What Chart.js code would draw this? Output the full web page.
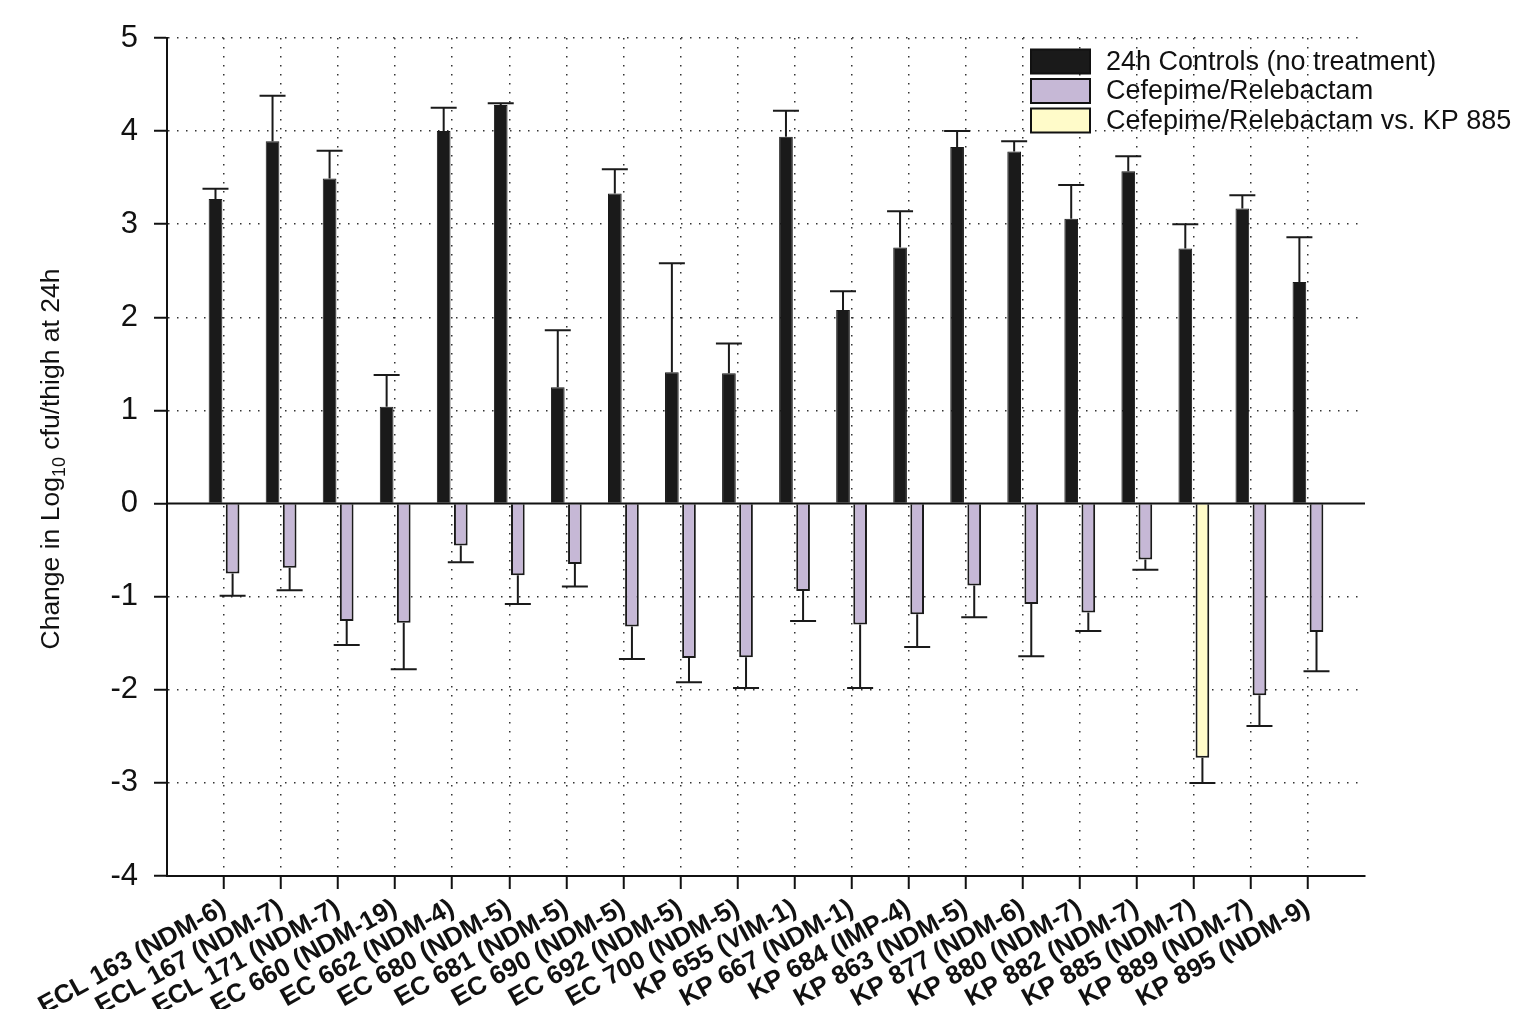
<!DOCTYPE html>
<html>
<head>
<meta charset="utf-8">
<script src="https://cdn.jsdelivr.net/npm/chart.js@4.4.1/dist/chart.umd.min.js"></script>
<style>
  html, body { margin: 0; padding: 0; background: #fff; overflow: hidden; }
  #wrap { width: 1514px; height: 1009px; }
</style>
</head>
<body>
<div id="wrap"><canvas id="chart" width="1514" height="1009"></canvas></div>
<script>
const categories = [
  'ECL 163 (NDM-6)', 'ECL 167 (NDM-7)', 'ECL 171 (NDM-7)', 'EC 660 (NDM-19)', 'EC 662 (NDM-4)',
  'EC 680 (NDM-5)', 'EC 681 (NDM-5)', 'EC 690 (NDM-5)', 'EC 692 (NDM-5)', 'EC 700 (NDM-5)',
  'KP 655 (VIM-1)', 'KP 667 (NDM-1)', 'KP 684 (IMP-4)', 'KP 863 (NDM-5)', 'KP 877 (NDM-6)',
  'KP 880 (NDM-7)', 'KP 882 (NDM-7)', 'KP 885 (NDM-7)', 'KP 889 (NDM-7)', 'KP 895 (NDM-9)'
];

// 24h controls: mean change and SD
const controlMeans = [3.27, 3.89, 3.49, 1.04, 4.00, 4.28, 1.25, 3.33, 1.41, 1.40,
                      3.94, 2.08, 2.75, 3.83, 3.78, 3.06, 3.57, 2.74, 3.17, 2.38];
const controlSd    = [0.11, 0.49, 0.30, 0.34, 0.25, 0.02, 0.61, 0.26, 1.17, 0.32,
                      0.28, 0.20, 0.39, 0.17, 0.11, 0.36, 0.16, 0.26, 0.14, 0.48];

// cefepime/relebactam (KP 885 is drawn as its own series)
const treatMeans = [-0.75, -0.69, -1.26, -1.28, -0.45, -0.77, -0.65, -1.32, -1.66, -1.65,
                    -0.94, -1.30, -1.19, -0.88, -1.08, -1.17, -0.60, null, -2.06, -1.38];
const treatSd    = [0.24, 0.24, 0.26, 0.50, 0.18, 0.31, 0.24, 0.35, 0.26, 0.33,
                    0.32, 0.68, 0.35, 0.34, 0.56, 0.20, 0.11, null, 0.33, 0.42];

const kp885Label = 'KP 885 (NDM-7)';
const kp885Mean = [-2.73];
const kp885Sd = [0.27];

const yMin = -4, yMax = 5;

const FONT = "'Liberation Sans', Arial, sans-serif";
const clear = 'rgba(0,0,0,0)';

// one empty slot on each side, like the original axis
const xLabels = ['', ...categories, ' '];

// error bars (up for positive bars, down for negative ones)
const errorBars = {
  id: 'errorBars',
  afterDatasetsDraw(chart) {
    const ctx = chart.ctx;
    const y = chart.scales.y;
    ctx.save();
    ctx.strokeStyle = '#1a1a1a';
    ctx.lineWidth = 2;
    chart.data.datasets.forEach((ds, di) => {
      const meta = chart.getDatasetMeta(di);
      meta.data.forEach((bar, i) => {
        const v = ds.data[i].y;
        const sd = ds.sd[i];
        if (v == null || sd == null) return;
        const end = y.getPixelForValue(v >= 0 ? v + sd : v - sd);
        ctx.beginPath();
        ctx.moveTo(bar.x, bar.y);
        ctx.lineTo(bar.x, end);
        ctx.moveTo(bar.x - 13, end);
        ctx.lineTo(bar.x + 13, end);
        ctx.stroke();
      });
    });
    ctx.restore();
  }
};

const zeroLine = {
  id: 'zeroLine',
  afterDatasetsDraw(chart) {
    const ctx = chart.ctx;
    const a = chart.chartArea;
    const y0 = chart.scales.y.getPixelForValue(0);
    ctx.save();
    ctx.strokeStyle = '#111';
    ctx.lineWidth = 2;
    ctx.beginPath();
    ctx.moveTo(a.left, y0);
    ctx.lineTo(a.right, y0);
    ctx.stroke();
    ctx.restore();
  }
};

// y title with subscript 10
const yTitle = {
  id: 'yTitle',
  afterDraw(chart) {
    const ctx = chart.ctx;
    const a = chart.chartArea;
    const parts = [['Change in Log', 26.5, 0], ['10', 18, 8], [' cfu/thigh at 24h', 26.5, 0]];
    ctx.save();
    ctx.translate(52, (a.top + a.bottom) / 2 + 2);
    ctx.rotate(-Math.PI / 2);
    ctx.fillStyle = '#111';
    ctx.textBaseline = 'middle';
    let total = 0;
    parts.forEach(p => { ctx.font = p[1] + 'px ' + FONT; total += ctx.measureText(p[0]).width; });
    let x = -total / 2;
    parts.forEach(p => {
      ctx.font = p[1] + 'px ' + FONT;
      ctx.fillText(p[0], x, p[2]);
      x += ctx.measureText(p[0]).width;
    });
    ctx.restore();
  }
};

// legend inside the plot, upper right
const boxLegend = {
  id: 'boxLegend',
  afterDraw(chart) {
    const ctx = chart.ctx;
    ctx.save();
    ctx.font = '27px ' + FONT;
    ctx.textBaseline = 'middle';
    chart.data.datasets.forEach((ds, i) => {
      const cy = 61.5 + i * 29.5;
      ctx.fillStyle = ds.backgroundColor;
      ctx.fillRect(1031, cy - 12, 59, 24);
      ctx.strokeStyle = '#111';
      ctx.lineWidth = 2;
      ctx.strokeRect(1031, cy - 12, 59, 24);
      ctx.fillStyle = '#111';
      ctx.fillText(ds.label, 1106, cy + 1);
    });
    ctx.restore();
  }
};

new Chart(document.getElementById('chart'), {
  type: 'bar',
  data: {
    labels: xLabels,
    datasets: [
      {
        label: '24h Controls (no treatment)',
        stack: 'control',
        data: categories.map((c, i) => ({ x: c, y: controlMeans[i] })),
        sd: controlSd,
        backgroundColor: '#1a1a1a',
        borderColor: '#1a1a1a',
        borderWidth: 1
      },
      {
        label: 'Cefepime/Relebactam',
        stack: 'treated',
        data: categories.map((c, i) => ({ x: c, y: treatMeans[i] })),
        sd: treatSd,
        backgroundColor: '#c6b8d6',
        borderColor: '#1a1a1a',
        borderWidth: 2
      },
      {
        label: 'Cefepime/Relebactam vs. KP 885',
        stack: 'treated',
        data: kp885Mean.map(v => ({ x: kp885Label, y: v })),
        sd: kp885Sd,
        backgroundColor: '#fffbc9',
        borderColor: '#1a1a1a',
        borderWidth: 2
      }
    ]
  },
  options: {
    responsive: false,
    animation: false,
    devicePixelRatio: 1,
    categoryPercentage: 0.6,
    barPercentage: 0.8,
    layout: { padding: { top: 38, right: 149, left: 0, bottom: 0 } },
    plugins: {
      legend: { display: false },
      tooltip: { enabled: false }
    },
    scales: {
      x: {
        offset: false,
        afterFit: (scale) => { scale.height = 133; },
        grid: {
          offset: false,
          color: (ctx) => (ctx.index === 0 || ctx.index === xLabels.length - 1) ? clear : '#333',
          lineWidth: 1.5,
          tickLength: 13,
          tickWidth: 2,
          tickColor: (ctx) => (ctx.index === 0 || ctx.index === xLabels.length - 1) ? clear : '#111'
        },
        border: { display: true, color: '#111', width: 2, dash: [1.5, 7.5] },
        ticks: {
          autoSkip: false,
          minRotation: 29,
          maxRotation: 29,
          padding: 4,
          color: '#111',
          font: { family: FONT, size: 26, weight: 'bold' }
        }
      },
      y: {
        stacked: false,
        min: yMin,
        max: yMax,
        afterFit: (scale) => { scale.width = 167; },
        grid: {
          color: (ctx) => ctx.tick.value === 0 ? clear : '#333',
          lineWidth: 1.5,
          tickLength: 13,
          tickWidth: 2,
          tickColor: '#111'
        },
        border: { display: true, color: '#111', width: 2, dash: [1.5, 7.5] },
        ticks: {
          stepSize: 1,
          padding: 16,
          color: '#111',
          font: { family: FONT, size: 31 }
        }
      }
    }
  },
  plugins: [zeroLine, errorBars, yTitle, boxLegend]
});
</script>
</body>
</html>
